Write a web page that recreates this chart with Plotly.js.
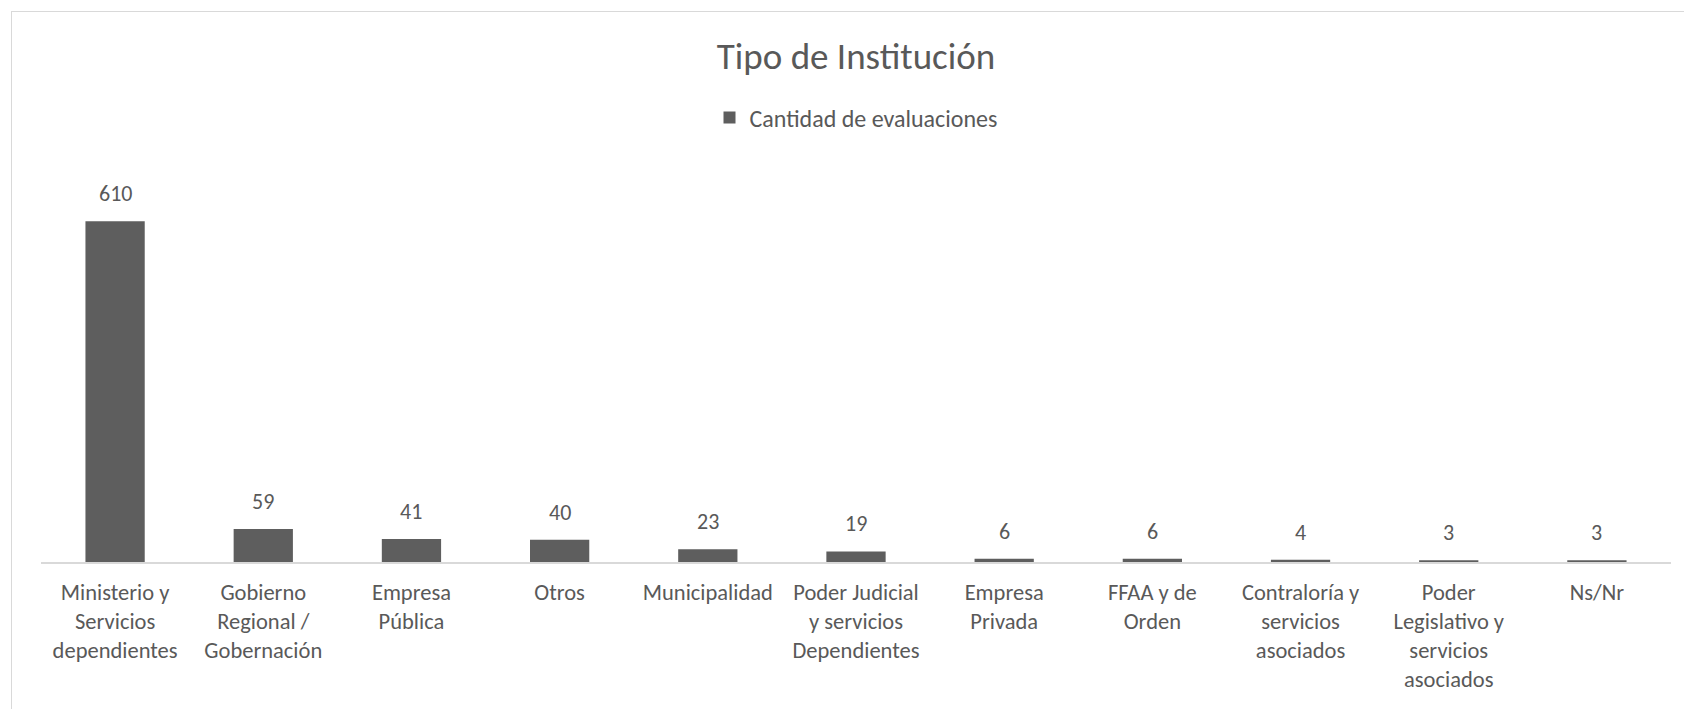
<!DOCTYPE html>
<html>
<head>
<meta charset="utf-8">
<script src="https://cdn.plot.ly/plotly-3.0.1.min.js"></script>
<style>
  html, body { margin: 0; padding: 0; background: #ffffff; }
  #wrap { position: relative; width: 1684px; height: 709px; overflow: hidden; }
  #chart { width: 1684px; height: 709px; }
  #frame { position: absolute; left: 11px; top: 11px; width: 1700px; height: 720px;
           border-left: 1.5px solid #d9d9d9; border-top: 1.5px solid #d9d9d9; pointer-events: none; }
</style>
</head>
<body>
<div id="wrap">
  <div id="chart"></div>
  <div id="frame"></div>
</div>
<script>
const categories = [
  "Ministerio y<br>Servicios<br>dependientes",
  "Gobierno<br>Regional /<br>Gobernación",
  "Empresa<br>Pública",
  "Otros",
  "Municipalidad",
  "Poder Judicial<br>y servicios<br>Dependientes",
  "Empresa<br>Privada",
  "FFAA y de<br>Orden",
  "Contraloría y<br>servicios<br>asociados",
  "Poder<br>Legislativo y<br>servicios<br>asociados",
  "Ns/Nr"
];
const values = [610, 59, 41, 40, 23, 19, 6, 6, 4, 3, 3];
const seriesName = "Cantidad de evaluaciones";
const chartTitle = "Tipo de Institución";

const FONT = "Carlito, Lato, 'Open Sans', sans-serif";
const TXT = "#595959";

const trace = {
  type: "bar",
  x: categories,
  y: values,
  name: seriesName,
  marker: { color: "#5e5e5e" },
  showlegend: true,
  hoverinfo: "x+y"
};

const annotations = categories.map((c, i) => ({
  x: c, y: values[i], xref: "x", yref: "y",
  text: String(values[i]), showarrow: false,
  yanchor: "bottom", yshift: 12,
  font: { family: FONT, size: 22, color: TXT }
}));

const layout = {
  width: 1684, height: 709,
  margin: { l: 41, r: 13, t: 171, b: 147 },
  paper_bgcolor: "#ffffff", plot_bgcolor: "#ffffff",
  font: { family: FONT, color: TXT },
  title: {
    text: chartTitle,
    font: { family: FONT, size: 37, color: TXT },
    x: 0.5, xref: "paper", xanchor: "center",
    y: 1 - 56 / 709, yref: "container", yanchor: "middle"
  },
  showlegend: true,
  legend: {
    orientation: "h", x: 0.5, xanchor: "center",
    y: 1 + 53 / 391, yanchor: "middle",
    font: { family: FONT, size: 24, color: TXT },
    bgcolor: "rgba(0,0,0,0)"
  },
  bargap: 0.6,
  xaxis: {
    type: "category",
    showline: true, linecolor: "#d9d9d9", linewidth: 1.5,
    showgrid: false, ticks: "", ticklabelstandoff: 9,
    tickfont: { family: FONT, size: 22.5, color: TXT },
    fixedrange: true
  },
  yaxis: {
    range: [0, 700], showgrid: false, zeroline: false,
    showticklabels: false, showline: false, ticks: "",
    fixedrange: true
  },
  annotations: annotations
};

Plotly.newPlot("chart", [trace], layout, { displayModeBar: false, staticPlot: true });
</script>
</body>
</html>
